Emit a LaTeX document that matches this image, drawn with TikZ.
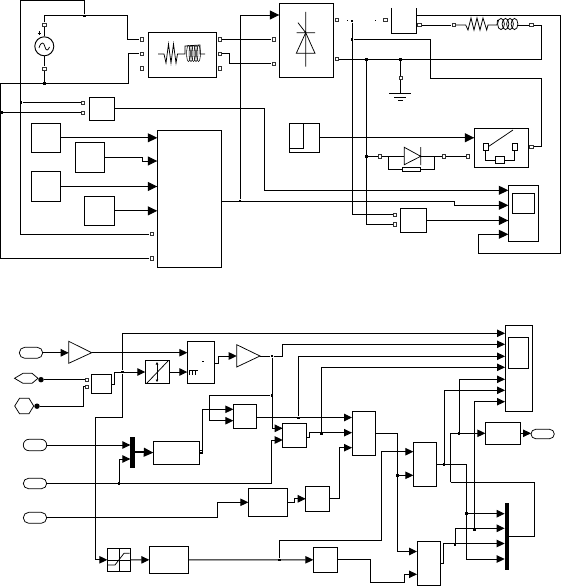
\documentclass[tikz,border=0pt]{standalone}
\usetikzlibrary{arrows.meta,shapes.misc}
\tikzset{
  x=1pt,y=-1pt,
  wire/.style={line width=0.95pt,black},
  glyph/.style={line width=0.75pt,black},
  wa/.style={wire,-{Triangle[length=9.5pt,width=9pt]}},
  wb/.style={wire,-{Triangle[length=8pt,width=7.5pt]}},
  blockbox/.style={draw,line width=0.95pt,inner sep=0pt,outer sep=0pt},
  portsq/.style={draw=black!80,fill=white,line width=0.6pt,inner sep=0pt,minimum size=3.4pt,outer sep=0.6pt},
  jn/.style={fill=black,inner sep=0pt,minimum size=2.8pt},
  pill/.style={rounded rectangle,draw,line width=0.75pt,inner sep=0pt,outer sep=0pt},
  dotn/.style={circle,fill=black,inner sep=0pt,minimum size=5.5pt},
  busbar/.style={fill=black,inner sep=0pt,outer sep=0pt}
}
\newcommand{\blk}[5]{\node[blockbox,minimum width={(#4-#2)*1pt},minimum height={(#5-#3)*1pt}] (#1) at ({(#2+#4)/2},{(#3+#5)/2}) {};}
\newcommand{\pillnode}[5]{\node[pill,minimum width={(#4-#2)*1pt},minimum height={(#5-#3)*1pt}] (#1) at ({(#2+#4)/2},{(#3+#5)/2}) {};}
\begin{document}
\begin{tikzpicture}
\useasboundingbox (0,0) rectangle (561,586);
% ---------- upper diagram: blocks
\node[circle,draw,line width=0.95pt,minimum size=19pt,inner sep=0pt] (src) at (44.3,46.3) {};
\draw[glyph] (39,48) .. controls (41,41) and (44,42) .. (45,47) .. controls (46,51) and (48,51) .. (49.5,47);
\draw[line width=0.4pt] (37.7,33) -- (41,33) (39.3,31.4) -- (39.3,34.6);
\blk{rl}{148}{32.5}{216.5}{77.5}
\draw[glyph] (158,54) -- (164,54) -- (166,63) -- (168.5,44) -- (171,63) -- (173.5,44) -- (176,63) -- (177.5,54) -- (185,54) -- (185,46) -- (200,45) -- (200,54) -- (205,54);
\foreach \cx in {188.5,191,193.5,196,198.5}{\draw[line width=0.55pt] (\cx,53.5) ellipse [x radius=1.9,y radius=8];}
\blk{thy}{279.3}{3.3}{333.3}{77.3}
\draw[glyph] (305.7,12) -- (305.7,66.7) (296.5,32.7) -- (315,32.7) (298,22.7) -- (305.7,32.7);
\draw[glyph] (305.7,32.7) -- (296.3,53.3) -- (315,53.3) -- cycle;
\coordinate (swTL) at (391.3,8);
\coordinate (swBR) at (416.3,33);
\draw[wire] (swTL) |- (swBR) -- (swBR |- swTL);
\coordinate (swOut) at (416.3,15.3);
\blk{ctl}{89.5}{97.3}{114.5}{120.3}
\blk{big}{157.3}{130}{221.7}{267}
\blk{s1}{31}{123.3}{60.7}{152.3}
\blk{s2}{75}{142.3}{104.7}{172.3}
\blk{s3}{31}{171.7}{60.7}{201.3}
\blk{s4}{84.7}{196}{114.5}{225.7}
% pulse block
\blk{pulse}{289}{123}{319}{152.5}
\draw[glyph] (289,148.5) -- (303.7,148.5) -- (303.7,123.5);
\draw[line width=1.4pt] (303.7,123.6) -- (318,123.6);
\blk{brk}{474.3}{128.3}{528.5}{167.3}
\node[blockbox,line width=0.7pt,minimum width=5.5pt,minimum height=6.7pt] (brkA) at (485.6,146.6) {};
\node[blockbox,line width=0.7pt,minimum width=5.3pt,minimum height=6.7pt] (brkB) at (514.7,146.6) {};
\node[blockbox,line width=0.7pt,minimum width=9.4pt,minimum height=7.2pt] (brkR) at (500,160) {};
\draw[glyph] (brkA.south) |- (brkR.west) (brkR.east) -| (brkB.south);
\draw[glyph] (brkA.east) -- (513,130);
\blk{scopeT}{508.3}{185.3}{538}{241.3}
\node[blockbox,minimum width=22pt,minimum height=20pt] (scrT) at (523,203) {};
\blk{meas}{400.7}{208.7}{426}{232.3}
% ---------- ports upper
\foreach \nm/\px/\py in {pS1/44.3/24.7,pS2/44.3/68.7,pA1/141.7/39.3,pA2/141.7/53.7,pA3/141.7/68.5,
  pB1/219.7/39.3,pB2/219.7/53.7,pB3/219.7/68.5,pT1/273.5/39.3,pT2/273.5/63.7,pK1/336.7/20,pK2/336.7/59,
  pC1/385.3/20,pC2/419.3/25,pR1/453.7/25,pR2/531.3/25,pG/400.5/78,pD1/380/156.3,pD2/444/156.3,pD3/468/156.3,
  pBr/531.3/146.5,pM1/395/214.7,pM2/395/224.3,pP1/83/102.7,pP2/83/112.5,pL1/151.7/234,pL2/151.7/258.3}{
  \node[portsq] (\nm) at (\px,\py) {};}
% junctions
\foreach \nm/\px/\py in {jA/84.5/16,jB/44.3/83.8,jC/21/102.7,jD/1.5/112.5,jE/240/201,jF/352/21,jG/352/39.5,
  jH/366.5/59.5,jI/400.5/59.5,jJ/366.5/156.3}{\node[jn] (\nm) at (\px,\py) {};}
% ---------- upper wiring
\coordinate (corn0) at (20.7,0.6);
\draw[wire] (jA) |- (corn0) |- (pL1.west);
\draw[wire] (pS1.north) |- (127.3,15.4) |- (pA1.west);
\draw[wire] (src) -- (pS1.south);
\draw[wire] (src) -- (pS2.north);
\draw[wire] (pS2.south) -- (jB);
\coordinate (corn1) at (0.7,83.3);
\draw[wire] (pL2.west) -| (corn1) -- (128,83.3) |- (pA2.west);
\draw[wire] (jC) -- (jC -| pP1.west);
\draw[wire] (jD) -- (jD -| pP2.west);
\draw[wire] (pB1.east) -- (pT1.west);
\draw[wire] (pB2.east) -- (229.3,53.7) |- (pT2.west);
\coordinate (scT1) at (508.3,190.3);
\coordinate (scT2) at (508.3,205.3);
\coordinate (scT4) at (508.3,234.3);
\draw[wa] (ctl.east) -| (264.7,190.3) -- (scT1);
\draw[wa] (s1.east) -- (s1.east -| big.west);
\draw[wa] (s2.east) -| (142.3,161) -- (157.3,161);
\draw[wa] (s3.east) -- (s3.east -| big.west);
\draw[wa] (s4.east) -- (s4.east -| big.west);
\coordinate (thyIn) at (279.3,15);
\draw[wa] (jE) |- (thyIn);
\draw[wire] (big.east |- jE) -- (454,201) -- (454,205.3);
\draw[wa] (454,205.3) -- (scT2);
% switch output, load
\draw[wire] (pK1.east) ++(8,0) -- ++(1,0);
\draw[wire] (pC1.west) ++(-8,0) -- ++(1,0);
\draw[wire] (jF) |- (pM1.west);
\draw[wire] (jG) -- (430,39.5) |- (541.7,78.3) |- (pBr.east);
\draw[wire] (pK2.east) -- (541.7,59) |- (pR2.east);
\draw[wire] (jH) |- (pM2.west);
\draw[wire] (jJ) -- (pD1.west);
\draw[wire] (jI) -- (pG.north);
\draw[wire] (pG.south) -- (400.5,93.3);
\draw[wire] (389,93.3) -- (410.5,93.3) (394,97.7) -- (406,97.7) (398,100.9) -- (403,100.9);
\draw[wire] (pC2.east) -- (pR1.west);
\draw[glyph] (pR1.east) -- (465.7,25) -- (468,30) -- (471,18) -- (474,30) -- (477,18) -- (480,30) -- (483,18) -- (486.7,30) -- (488,25) -- (497,25) -- (497.5,20);
\foreach \cx in {501,505.5,510,514.5}{\draw[glyph] (\cx,24) ellipse [x radius=3.4,y radius=5.6];}
\draw[glyph] (518,25) -- (pR2.west);
\draw[wa] (swOut) -- (560.3,15.3) |- (478,253.3) |- (scT4);
\draw[wa] (pulse.east) -- (pulse.east -| brk.west);
% diode/snubber
\node[inner sep=0pt] (dA) at (404.3,156.3) {};
\node[inner sep=0pt] (dK) at (420.7,156.3) {};
\draw[glyph] (404.3,147.3) -- (404.3,164.7) -- (dK.center) -- cycle (420.7,147) -- (420.7,165);
\node[blockbox,line width=0.7pt,minimum width=18pt,minimum height=4.5pt] (dR) at (411,169.3) {};
\draw[glyph] (pD1.east) -- (dA.center) (dK.center) -- (pD2.west);
\draw[glyph] (388.7,156.3) |- (dR.west) (dR.east) -| (434.3,156.3);
\draw[glyph] (pD2.east) -- (pD3.west);
\draw[wire] (pBr.east) -- (541.7,146.5);
\draw[wa] (meas.east) -- (meas.east -| scopeT.west);
% ---------- lower diagram: blocks
\pillnode{in1}{19.3}{347.3}{42.7}{358.3}
\pillnode{in3}{23.3}{439.3}{46.7}{450.7}
\pillnode{in4}{23.3}{478.3}{46.7}{488.7}
\pillnode{in5}{23.3}{512.3}{46.7}{523.3}
\pillnode{out1}{531}{429.3}{554.3}{438.7}
\draw[glyph] (14.5,378.3) -- (23,373.3) -- (32,373.3) -- (38,378.3) -- (32,383.3) -- (23,383.3) -- cycle;
\draw[glyph] (14.7,406) -- (19.5,398.3) -- (29,398.3) -- (33.7,406) -- (29,413.7) -- (19.5,413.7) -- cycle;
\node[dotn] (hx1) at (41,379.7) {};
\node[dotn] (hx2) at (37,406.2) {};
\coordinate (g1a) at (68.7,341.3); \coordinate (g1b) at (68.7,363.3); \coordinate (g1o) at (91.7,352.7);
\draw[glyph] (g1a) -- (g1b) -- (g1o) -- cycle;
\coordinate (g2a) at (236.7,344.7); \coordinate (g2b) at (236.7,367); \coordinate (g2o) at (260,356);
\draw[glyph] (g2a) -- (g2b) -- (g2o) -- cycle;
\blk{sum}{91.7}{374.3}{111.7}{393.7}
\blk{conv}{145.3}{360.3}{169}{383.7}
\draw[glyph] (147,383) -- (168,361);
\draw[glyph,{Triangle[length=2.5pt,width=2.5pt]}-{Triangle[length=2.5pt,width=2.5pt]}] (157,362) -- (157,382);
\blk{mul}{187.3}{341.3}{214.3}{383.3}
\draw[glyph] (189.5,375) -- (189.5,370) -- (198,370) (192,370) -- (192,375) (195,370) -- (195,375);
\draw[line width=0.4pt] (202,361.5) -- (204,361.5);
\blk{fcn}{153.3}{441}{199.7}{464.3}
\draw[glyph] (199.7,450.7) rectangle (202.3,453);
\blk{pi1}{233.3}{404.3}{256.7}{428.7}
\blk{add2}{282.7}{423.3}{306.7}{447.3}
\blk{sum3}{352}{411.3}{375.7}{455.7}
\blk{sum4}{413.3}{442}{436.7}{486.3}
\blk{gainb}{485.3}{422.3}{520.7}{444.3}
\blk{scopeB}{505}{325.3}{532}{411.3}
\blk{scrB}{508.3}{337.3}{528}{368.3}
\blk{h1}{248.3}{488.3}{287.7}{516.3}
\blk{h2}{305.7}{486.3}{329.7}{511.3}
\blk{satb}{107.3}{548.3}{130.7}{571.3}
\draw[glyph] (107.3,560) -- (130.7,560) (119,548.3) -- (119,571.3);
\draw[glyph] (108,565) -- (115,565) -- (124,553.3) -- (129.5,553.3);
\blk{tf}{149.3}{546}{188}{573.7}
\blk{pi2}{313.3}{547.3}{337}{572.3}
\blk{sum5}{417}{541.3}{440.7}{585.7}
\node[busbar,minimum width=4.7pt,minimum height=31pt] (mux) at (132.7,452.2) {};
\node[busbar,minimum width=4.7pt,minimum height=67pt] (bus) at (507,536.8) {};
\node[portsq,minimum size=2.8pt,line width=0.45pt] (pV1) at (87,379.7) {};
\node[portsq,minimum size=2.8pt,line width=0.45pt] (pV2) at (87,386.5) {};
\foreach \nm/\px/\py in {jK/272/356,jL/272/395.3,jM/122.7/372,jN/119/483.5,jO/298.3/418,jP/321.3/433.3,
  jQ/397.7/475.3,jR/444/464.3,jS/459/433.3,jT/466.3/513.7,jU/474.3/529.5,jV/455/545,jW/279.5/560}{\node[jn] (\nm) at (\px,\py) {};}
% ---------- lower wiring
\foreach \cy [count=\ci] in {333.3,344.3,356.3,367.3,379.3,390.3,401.7}{\coordinate (tp\ci) at (505,\cy);}
\draw[wb] (in1.east) -- (g1a |- in1.east);
\draw[wb] (g1o) -- (g1o -| mul.west);
\draw[wire] (hx1) -- (pV1.west);
\draw[wire] (hx2) -- (83.7,406.2) |- (pV2.west);
\draw[wb] (sum.east) -- (114.3,384) |- (conv.west);
\draw[wb] (conv.east) -- (conv.east -| mul.west);
\draw[wb] (214.3,363.7) -- (218,363.7) |- (236.7,356);
\draw[wire] (g2o) -- (jK);
\draw[wb] (jK) -- (282.3,356) |- (tp2);
\draw[wb] (jK) |- (add2.west |- 0,428.3);
\draw[wb] (jL) -| (209.3,420.7) -- (pi1.west |- 0,420.7);
\draw[wb] (fcn.east) -- (202.3,452.65) |- (pi1.west |- 0,409.3);
\draw[wb] (jM) |- (tp1);
\draw[wb] (jM) |- (95.7,417.7) |- (satb.west);
\draw[wb] (pi1.east |- 0,417.5) -- (sum3.west |- 0,417.5);
\draw[wb] (jO) |- (tp3);
\draw[wb] (306.7,437) -- (309,437) |- (sum3.west |- 0,432.7);
\draw[wb] (jP) |- (tp4);
\draw[wb] (h2.east |- 0,498.3) -- (339.7,498.3) |- (sum3.west |- 0,447.7);
\draw[wire] (sum3.east) -- (397.7,433.5) -- (397.7,551.5);
\draw[wb] (397.7,551.5) -- (sum5.west |- 0,551.5);
\draw[wb] (jQ) -- (sum4.west |- jQ);
\draw[wb] (jW) |- (381.3,540) |- (sum4.west |- 0,451.7);
\draw[wire] (sum4.east |- jR) -- (466.3,464.3);
\draw[wb] (466.3,464.3) |- (bus.west |- 0,559);
\draw[wb] (jR) |- (tp6);
\draw[wb] (jT) -- (bus.west |- jT);
\draw[wb] (450.7,482.3) |- (gainb.west);
\draw[wire] (450.7,482.3) -- (534.7,482.3) |- (bus.east);
\draw[wb] (jS) |- (tp5);
\draw[wb] (gainb.east) -- (gainb.east -| out1.west);
\draw[wb] (jU) |- (tp7);
\draw[wb] (jV) |- (bus.west |- 0,528.3);
\draw[wb] (440.7,563.3) -- (443.7,563.3) |- (bus.west |- 0,543.5);
\draw[wb] (pi2.east) -- (370.3,559.8) |- (404.5,582.3) |- (sum5.west |- 0,574.3);
\draw[wb] (tf.east) -- (pi2.west);
\draw[wb] (satb.east) -- (tf.west);
\draw[wb] (in3.east) -- (mux.west |- in3.east);
\draw[wb] (jN) |- (mux.west |- 0,459);
\draw[wire] (in4.east) -- (271.7,483.5) -- (271.7,440);
\draw[wb] (271.7,440) -- (add2.west |- 0,440);
\draw[wb] (in5.east) -- (217.7,517.8) |- (h1.west);
\draw[wb] (h1.east) -- (294,502.3) |- (h2.west);
\draw[line width=2pt] (mux.east) -- (145,452.2);
\draw[wa] (143,452.2) -- (fcn.west);
\end{tikzpicture}
\end{document}
